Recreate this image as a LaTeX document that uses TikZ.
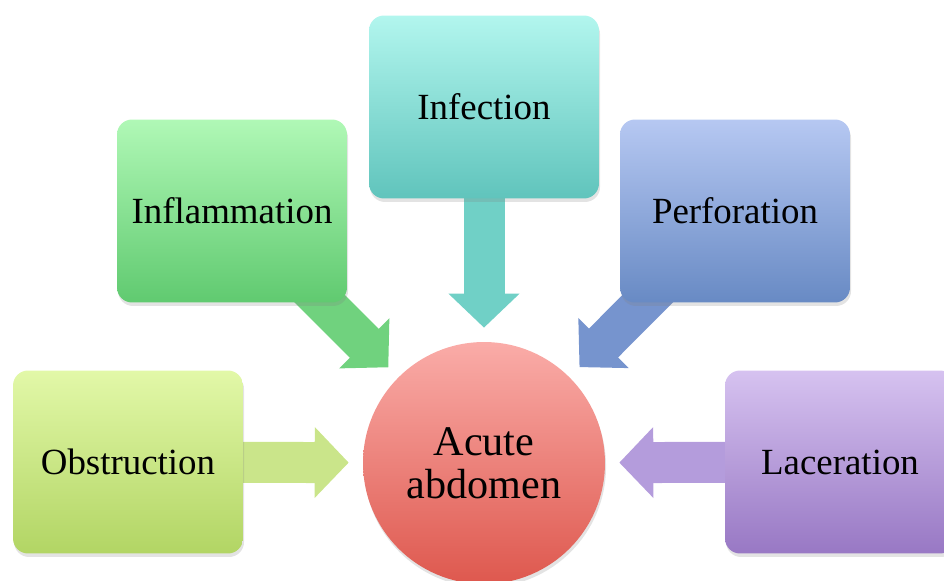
\documentclass[tikz,border=0pt]{standalone}
\usepackage{fontspec}
\setmainfont{Liberation Serif}
\usetikzlibrary{arrows.meta,shadows,backgrounds}

\definecolor{obstop}{RGB}{226,248,168}
\definecolor{obsbot}{RGB}{178,213,100}
\definecolor{obsarr}{RGB}{202,229,138}
\definecolor{infltop}{RGB}{176,248,182}
\definecolor{inflbot}{RGB}{96,202,112}
\definecolor{inflarr}{RGB}{112,210,126}
\definecolor{inftop}{RGB}{178,246,238}
\definecolor{infbot}{RGB}{96,196,188}
\definecolor{infarr}{RGB}{112,208,198}
\definecolor{perftop}{RGB}{182,200,242}
\definecolor{perfbot}{RGB}{104,138,196}
\definecolor{perfarr}{RGB}{118,148,206}
\definecolor{lactop}{RGB}{214,194,240}
\definecolor{lacbot}{RGB}{152,120,196}
\definecolor{lacarr}{RGB}{180,156,220}
\definecolor{acutetop}{RGB}{250,172,168}
\definecolor{acutebot}{RGB}{222,88,78}

\tikzset{
  cause/.style={rounded corners=0.3cm, minimum width=4.6cm, minimum height=3.66cm,
    font=\fontsize{21}{24}\selectfont,
    drop shadow={shadow xshift=0.6pt, shadow yshift=-2pt, opacity=0.22}},
  fat/.style={line width=0.82cm, -{Triangle[width=1.38cm,length=0.68cm]}, shorten >=0.28cm}
}

\begin{document}
\begin{tikzpicture}[x=0.02cm,y=-0.02cm]
  \useasboundingbox (0,0) rectangle (944,581);

  \node[cause, top color=obstop, bottom color=obsbot] (obs) at (128,462) {Obstruction};
  \node[cause, top color=infltop, bottom color=inflbot] (infl) at (232,211) {Inflammation};
  \node[cause, top color=inftop, bottom color=infbot] (inf) at (484,107) {Infection};
  \node[cause, top color=perftop, bottom color=perfbot] (perf) at (735,211) {Perforation};
  \node[cause, top color=lactop, bottom color=lacbot] (lac) at (840,462) {Laceration};

  \node[circle, minimum size=4.84cm, top color=acutetop, bottom color=acutebot,
    drop shadow={shadow xshift=0.6pt, shadow yshift=-2pt, opacity=0.22},
    align=center, font=\fontsize{24}{24.5}\selectfont] (acute) at (484,463) {Acute\\abdomen};

  \begin{scope}[on background layer]
    \draw[fat,obsarr] (obs.center) -- (acute);
    \draw[fat,inflarr] (infl.center) -- (acute);
    \draw[fat,infarr] (inf.center) -- (acute);
    \draw[fat,perfarr] (perf.center) -- (acute);
    \draw[fat,lacarr] (lac.center) -- (acute);
  \end{scope}
\end{tikzpicture}
\end{document}
